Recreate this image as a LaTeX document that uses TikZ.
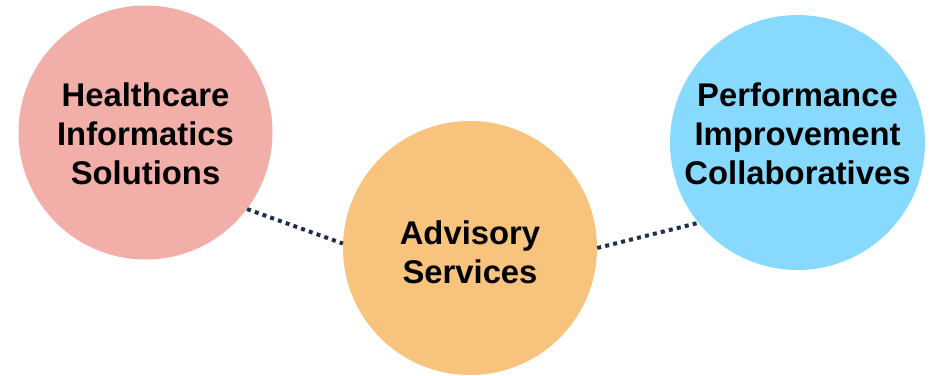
\documentclass[tikz,border=0pt]{standalone}
\usepackage{fontspec}
\setmainfont{Liberation Sans}
\usepackage{tikz}
\usetikzlibrary{positioning,calc}
\usepackage{xcolor}
\definecolor{hcispink}{RGB}{242,174,168}
\definecolor{advorange}{RGB}{248,196,125}
\definecolor{picblue}{RGB}{136,217,254}
\definecolor{linknavy}{RGB}{31,45,78}
\newcommand{\areatext}[2]{\raisebox{#1}[\height][\depth]{\begin{tabular}{@{}c@{}}#2\end{tabular}}}

\begin{document}
\begin{tikzpicture}[
    area/.style={circle, draw=none, minimum size=7.62cm, inner sep=0pt,
                 align=center, font=\fontsize{28}{33.5}\selectfont\bfseries},
    link/.style={draw=linknavy, line width=3.4pt, dash pattern=on 3.4pt off 3.6pt}
]
\useasboundingbox (0,0) rectangle (27.9,-11.25);

\node[area, fill=hcispink] (hcis) at (4.365,-3.975) {\areatext{-0.15cm}{Healthcare\\Informatics\\Solutions}};
\node[area, fill=advorange] (adv) at (14.1,-7.44) {\areatext{-0.24cm}{Advisory\\Services}};
\node[area, fill=picblue] (pic) at (23.925,-4.275) {\areatext{0.15cm}{Performance\\Improvement\\Collaboratives}};

% dotted links
\draw[link] (hcis.-37) -- (adv.178);
\draw[link] (adv.0) -- (pic.-141);
\end{tikzpicture}
\end{document}
